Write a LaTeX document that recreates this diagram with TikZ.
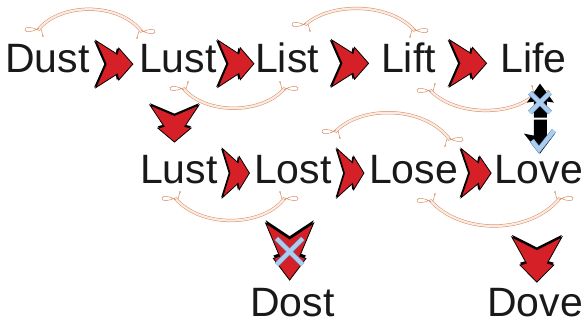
\documentclass[tikz,border=0pt]{standalone}
\usepackage{fontspec}
\setmainfont{Liberation Sans}
\usetikzlibrary{positioning,calc}
\definecolor{myred}{RGB}{212,32,38}
\definecolor{myrib}{RGB}{214,140,100}
\definecolor{myribin}{RGB}{250,234,226}
\definecolor{myblue}{RGB}{172,205,236}
\definecolor{mybluedark}{RGB}{95,140,200}

\begin{document}
\begin{tikzpicture}[x=1pt,y=-1pt,
  word/.style={anchor=base west,inner sep=0pt,font=\fontsize{41}{41}\selectfont,text=black!90},
  ribbon/.style={draw=myrib,line width=0.5pt,double=myribin,double distance=2.2pt},
  curlline/.style={draw=myrib,line width=0.5pt},
  xmark/.style={draw=mybluedark,line width=0.6pt,double=myblue,double distance=4pt},
  chev/.pic={
    \fill[black,shift={(-0.05,0)}] (-0.5,-0.5) -- (0.08,-0.21) -- (0.12,-0.34) -- (0.5,0)
      -- (0.12,0.34) -- (0.08,0.21) -- (-0.5,0.5) -- (-0.22,0) -- cycle;
    \filldraw[fill=myred,draw=black,line width=0.8pt] (-0.5,-0.5) -- (0.08,-0.21) -- (0.12,-0.34) -- (0.5,0)
      -- (0.12,0.34) -- (0.08,0.21) -- (-0.5,0.5) -- (-0.22,0) -- cycle;
  },
  updown/.pic={
    \fill[black] (0,-35) -- (14,-16) -- (7,-17) -- (7,-1) -- (-6,-1) -- (-6,-17) -- (-13,-16) -- cycle;
    \fill[black] (0,35) -- (15,15) -- (7,17) -- (7,1) -- (-6,1) -- (-6,17) -- (-16,15) -- cycle;
  },
  xmk/.pic={\draw[xmark] (-1,-1) -- (1,1) (-1,1) -- (1,-1);},
  curl/.pic={
    \draw[curlline] (0,0) .. controls (-6,-3) and (-14,-4) .. (-13,0) .. controls (-12,3) and (-5,2) .. (1,-2);
    \draw[curlline] (3,-1) -- (5,6);
    \fill[myrib] (5,6) circle (0.9pt);
  }
]
\useasboundingbox (0,0) rectangle (587,324);

% the words
\node[word] (dust) at (5,72) {Dust};
\node[word] (lusta) at (139,72) {Lust};
\node[word] (list) at (255,72) {List};
\node[word] (lift) at (381,72) {Lift};
\node[word] (life) at (500,72) {Life};
\node[word] (lustb) at (140,183) {Lust};
\node[word] (lost) at (254,183) {Lost};
\node[word] (lose) at (369,183) {Lose};
\node[word] (love) at (494,183) {Love};
\node[word] (dost) at (250,316) {Dost};
\node[word] (dove) at (487,316) {Dove};

% the swirls
\foreach \p/\q/\r/\s/\f in {
  {38,30}/{60,2}/{120,2}/{142,32}/1,
  {183,88}/{205,115}/{262,115}/{285,88}/-1,
  {305,25}/{330,2}/{390,2}/{415,31}/1,
  {430,90}/{455,117}/{515,117}/{537,92}/-1,
  {335,132}/{360,105}/{425,105}/{450,140}/1,
  {175,198}/{200,228}/{262,228}/{285,198}/-1,
  {430,200}/{460,235}/{530,235}/{560,198}/-1}
{
  \draw[ribbon] (\p) .. controls (\q) and (\r) .. (\s);
  \pic[yscale=\f] at (\p) {curl};
  \pic[xscale=-1,yscale=\f] at (\s) {curl};
}

% the arrows along the rows
\pic[xscale=37,yscale=47] at ($(dust.east)!.5!(lusta.west)+(0,6)$) {chev};
\pic[xscale=36,yscale=47] at ($(lusta.east)!.5!(list.west)+(0,6)$) {chev};
\pic[xscale=37,yscale=47] at ($(list.east)!.5!(lift.west)+(0,6)$) {chev};
\pic[xscale=37,yscale=47] at ($(lift.east)!.5!(life.west)+(0,6)$) {chev};
\pic[xscale=27,yscale=49] at ($(lustb.east)!.5!(lost.west)+(0,4)$) {chev};
\pic[xscale=27,yscale=49] at ($(lost.east)!.5!(lose.west)+(0,4)$) {chev};
\pic[xscale=30,yscale=49] at ($(lose.east)!.5!(love.west)+(0,4)$) {chev};

% the arrows going down
\pic[rotate=-90,xscale=37,yscale=49] at ($(lusta.south)!.5!(lustb.north)+(-4,10)$) {chev};
\coordinate (dx) at ($(lost.south)!.5!(dost.north)+(-3,16)$);
\pic[rotate=-90,xscale=57,yscale=48] at (dx) {chev};
\pic[scale=13] at (dx) {xmk};
\pic[rotate=-90,xscale=45,yscale=50] at ($(love.south)!.5!(dove.north)+(0,24)$) {chev};

% life and love
\coordinate (ud) at ($(life.south)!.5!(love.north)+(4,5)$);
\pic at (ud) {updown};
\pic[scale=10] at ($(ud)+(0,-16)$) {xmk};
\draw[xmark] ($(ud)+(-8,22)$) -- ($(ud)+(-1,31)$) -- ($(ud)+(14,12)$);
\end{tikzpicture}
\end{document}
